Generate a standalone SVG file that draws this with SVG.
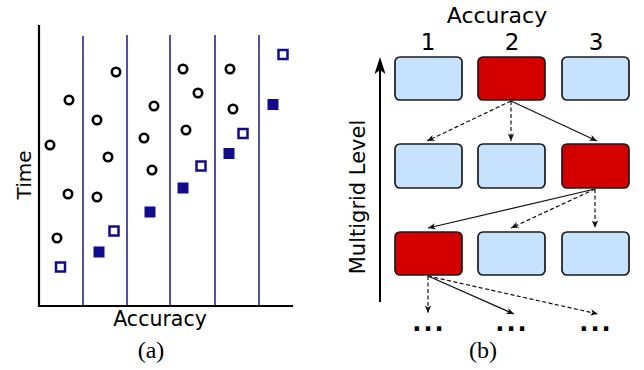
<svg xmlns="http://www.w3.org/2000/svg" width="644" height="370" viewBox="0 0 644 370">
<style>
.lbl{font-family:"DejaVu Sans","Liberation Sans",sans-serif;fill:#000}
.cap{font-family:"Liberation Serif","DejaVu Serif",serif;fill:#000}
.circ{fill:#fff;stroke:#000;stroke-width:2.6}
.osq{fill:#fff;stroke:#100c8c;stroke-width:2.5}
.fsq{fill:#100c8c}
.div{stroke:#2a2390;stroke-width:1.6}
.blue{fill:#c6e2fc;stroke:#1a1a1a;stroke-width:1.7}
.red{fill:#d40000;stroke:#1a1a1a;stroke-width:1.7}
.edge{fill:none;stroke:#111;stroke-width:1.2;marker-end:url(#ah)}
.dash{stroke-dasharray:4 2.5}
.dots{font-family:"DejaVu Sans",sans-serif;font-weight:bold;font-size:24px;letter-spacing:2px;fill:#000}
</style>
<defs>
<marker id="ah" viewBox="-9 -5 10 10" markerWidth="10" markerHeight="10" markerUnits="userSpaceOnUse" refX="0" refY="0" orient="auto">
<path d="M0,0 L-7.5,-3.2 L-5.5,0 L-7.5,3.2 z" fill="#111"/>
</marker>
</defs>

<!-- Panel (a) -->
<g id="plot-a">
<g id="dividers">
<line class="div" x1="83" y1="36" x2="83" y2="306"/>
<line class="div" x1="127" y1="35" x2="127" y2="306"/>
<line class="div" x1="170" y1="35" x2="170" y2="306"/>
<line class="div" x1="215" y1="35" x2="215" y2="306"/>
<line class="div" x1="259" y1="35" x2="259" y2="306"/>
</g>
<path id="axes" d="M39,25 V306 H293" fill="none" stroke="#000" stroke-width="2.2"/>
<g id="circles">
<circle class="circ" cx="50" cy="145" r="4.2"/>
<circle class="circ" cx="69" cy="100" r="4.2"/>
<circle class="circ" cx="68" cy="194" r="4.2"/>
<circle class="circ" cx="57" cy="238" r="4.2"/>
<circle class="circ" cx="116" cy="72" r="4.2"/>
<circle class="circ" cx="97" cy="120" r="4.2"/>
<circle class="circ" cx="108" cy="157" r="4.2"/>
<circle class="circ" cx="97" cy="197" r="4.2"/>
<circle class="circ" cx="154" cy="106" r="4.2"/>
<circle class="circ" cx="144" cy="138" r="4.2"/>
<circle class="circ" cx="152" cy="170" r="4.2"/>
<circle class="circ" cx="183" cy="69" r="4.2"/>
<circle class="circ" cx="198" cy="93" r="4.2"/>
<circle class="circ" cx="186" cy="130" r="4.2"/>
<circle class="circ" cx="230" cy="69" r="4.2"/>
<circle class="circ" cx="233" cy="109" r="4.2"/>
</g>
<g id="open-squares">
<rect class="osq" x="278.5" y="50" width="9" height="9"/>
<rect class="osq" x="238.5" y="129" width="9" height="9"/>
<rect class="osq" x="196.5" y="161.5" width="9" height="9"/>
<rect class="osq" x="109.5" y="226.5" width="9" height="9"/>
<rect class="osq" x="56" y="262.5" width="9" height="9"/>
</g>
<g id="filled-squares">
<rect class="fsq" x="267.5" y="99" width="11" height="11"/>
<rect class="fsq" x="223.5" y="148" width="11" height="11"/>
<rect class="fsq" x="177.5" y="182.5" width="11" height="11"/>
<rect class="fsq" x="144.5" y="206.5" width="11" height="11"/>
<rect class="fsq" x="93.5" y="246.5" width="11" height="11"/>
</g>
<text class="lbl" font-size="20" text-anchor="middle" transform="translate(31,175) rotate(-90)">Time</text>
<text class="lbl" font-size="20.5" x="160" y="326" text-anchor="middle">Accuracy</text>
<text class="cap" font-size="24" x="151" y="358" text-anchor="middle">(a)</text>
</g>

<!-- Panel (b) -->
<g id="labels-b">
<text class="lbl" font-size="22" x="497" y="23" text-anchor="middle">Accuracy</text>
<text class="lbl" font-size="23" x="428" y="50" text-anchor="middle">1</text>
<text class="lbl" font-size="23" x="512" y="50" text-anchor="middle">2</text>
<text class="lbl" font-size="23" x="596" y="50" text-anchor="middle">3</text>
<text class="lbl" font-size="21" text-anchor="middle" transform="translate(365,197) rotate(-90)">Multigrid Level</text>
<text class="cap" font-size="24" x="483" y="358" text-anchor="middle">(b)</text>
</g>
<g id="level-axis">
<line x1="380" y1="302" x2="380" y2="66" stroke="#000" stroke-width="2"/>
<path d="M380,57 L385.5,74 L380,70 L374.5,74 z" fill="#000"/>
</g>

<g id="node-r1c1"><rect class="blue" x="395" y="57" width="67" height="43" rx="5"/></g>
<g id="node-r1c2"><rect class="red" x="478" y="57" width="67" height="43" rx="5"/></g>
<g id="node-r1c3"><rect class="blue" x="562" y="57" width="67" height="43" rx="5"/></g>
<g id="node-r2c1"><rect class="blue" x="395" y="144" width="67" height="44" rx="5"/></g>
<g id="node-r2c2"><rect class="blue" x="478" y="144" width="67" height="44" rx="5"/></g>
<g id="node-r2c3"><rect class="red" x="562" y="144" width="67" height="44" rx="5"/></g>
<g id="node-r3c1"><rect class="red" x="395" y="232" width="67" height="43" rx="5"/></g>
<g id="node-r3c2"><rect class="blue" x="478" y="232" width="67" height="43" rx="5"/></g>
<g id="node-r3c3"><rect class="blue" x="562" y="232" width="67" height="43" rx="5"/></g>

<g id="connectors">
<line class="edge dash" x1="511" y1="101" x2="427" y2="141"/>
<line class="edge dash" x1="511" y1="101" x2="511" y2="141"/>
<line class="edge" x1="511" y1="101" x2="597" y2="141"/>
<line class="edge" x1="595" y1="189" x2="428" y2="228"/>
<line class="edge dash" x1="595" y1="189" x2="511" y2="228"/>
<line class="edge dash" x1="595" y1="189" x2="595" y2="228"/>
<line class="edge dash" x1="428" y1="276" x2="428" y2="313"/>
<line class="edge" x1="428" y1="276" x2="514" y2="314"/>
<line class="edge dash" x1="428" y1="276" x2="598" y2="314"/>
</g>

<g id="ellipses">
<text class="dots" x="429" y="331" text-anchor="middle">...</text>
<text class="dots" x="512" y="331" text-anchor="middle">...</text>
<text class="dots" x="596" y="331" text-anchor="middle">...</text>
</g>
</svg>
